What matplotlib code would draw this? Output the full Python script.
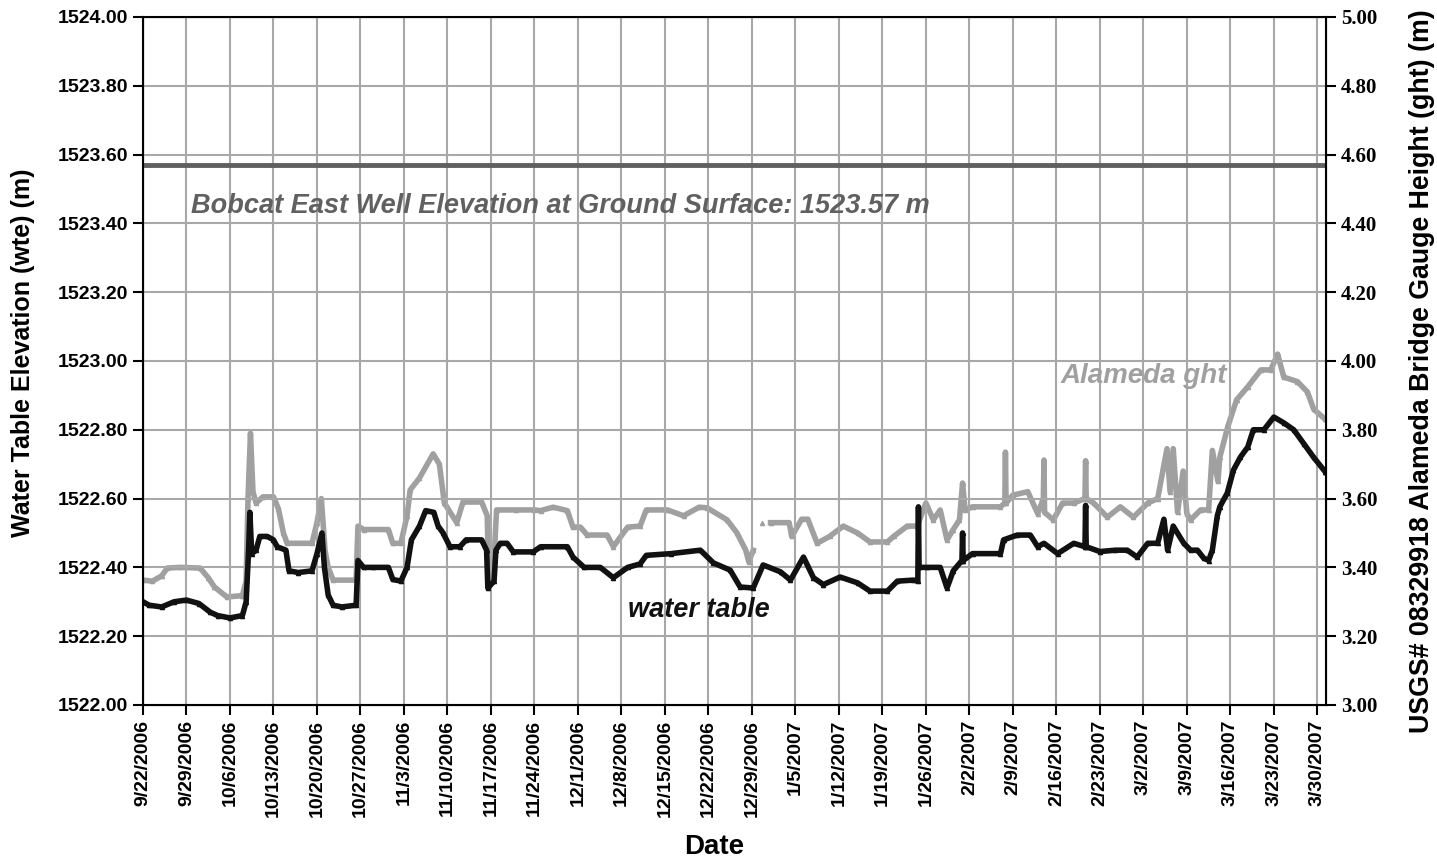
import numpy as np
import pandas as pd
import matplotlib
matplotlib.use('Agg')
import matplotlib.pyplot as plt

# days since 9/22/2006 and water table elevation (m)
wte_days = [0, 1, 3, 5, 7, 9, 10.8, 12, 14, 16, 16.6, 17.0, 17.2, 17.5, 18.2, 18.8, 20, 21,
            21.6, 23, 23.5, 25, 27.2, 28, 28.8, 29.2, 29.8, 30.6, 32, 34.3, 34.6, 35.5, 37,
            39.5, 40.2, 41.5, 42.5, 43.2, 44.5, 45.5, 46.8, 47.5, 48.3, 49.4, 51, 52, 54.5,
            55.3, 55.5, 56.5, 56.8, 57.5, 58.6, 59.6, 62.8, 64, 68.3, 69.2, 71, 73.6, 75.7,
            78, 80, 81, 85, 89.7, 91.8, 94.5, 96.1, 98.2, 99.8, 102.6, 104.2, 106.3, 107.9,
            109.5, 112.2, 115, 117, 119.8, 121.4, 124, 124.7, 124.8, 124.9, 126.2, 128.3,
            129.4, 130.4, 131.8, 131.9, 132, 133.5, 138, 138.5, 140.7, 142.8, 144, 145,
            147.2, 149.8, 151.6, 151.7, 151.8, 154, 156.5, 158.4, 160, 161.7, 163.3, 164.3,
            164.9, 165.8, 167.5, 168.6, 169.7, 170.7, 171.5, 172.1, 172.9, 173.3, 174.5,
            175.5, 176.6, 177.8, 178.7, 180.4, 182, 183.6, 185.2, 186.8, 188.4, 190.3]
wte_vals = [1522.30, 1522.29, 1522.285, 1522.30, 1522.305, 1522.295, 1522.27, 1522.26,
            1522.253, 1522.26, 1522.30, 1522.45, 1522.56, 1522.44, 1522.45, 1522.49, 1522.49,
            1522.48, 1522.46, 1522.45, 1522.39, 1522.385, 1522.39, 1522.44, 1522.50, 1522.40,
            1522.32, 1522.29, 1522.285, 1522.29, 1522.42, 1522.40, 1522.40, 1522.40, 1522.365,
            1522.36, 1522.40, 1522.48, 1522.52, 1522.565, 1522.56, 1522.52, 1522.50, 1522.46,
            1522.46, 1522.48, 1522.48, 1522.45, 1522.34, 1522.36, 1522.45, 1522.47, 1522.47,
            1522.445, 1522.445, 1522.46, 1522.46, 1522.43, 1522.40, 1522.40, 1522.37, 1522.40,
            1522.41, 1522.435, 1522.44, 1522.45, 1522.413, 1522.392, 1522.343, 1522.34,
            1522.407, 1522.387, 1522.363, 1522.43, 1522.37, 1522.35, 1522.372, 1522.355,
            1522.331, 1522.331, 1522.36, 1522.363, 1522.36, 1522.576, 1522.40, 1522.40,
            1522.40, 1522.34, 1522.39, 1522.42, 1522.50, 1522.42, 1522.44, 1522.44, 1522.48,
            1522.494, 1522.494, 1522.46, 1522.47, 1522.44, 1522.47, 1522.46, 1522.58, 1522.46,
            1522.446, 1522.45, 1522.45, 1522.43, 1522.47, 1522.47, 1522.54, 1522.45, 1522.52,
            1522.47, 1522.45, 1522.45, 1522.427, 1522.42, 1522.45, 1522.55, 1522.576,
            1522.616, 1522.683, 1522.72, 1522.75, 1522.80, 1522.80, 1522.837, 1522.82,
            1522.80, 1522.76, 1522.72, 1522.677]

# days since 9/22/2006 and Alameda gauge height (m), nan = gap in record
ght_days = [0, 1.5, 3, 3.9, 6, 9.2, 10.5, 11.5, 13.5, 16, 16.6, 16.9, 17.3, 17.7, 18.2, 19.3,
            21, 21.8, 22.6, 23.2, 27.2, 28, 28.7, 29.3, 29.8, 30.6, 34.3, 34.6, 35.5, 39.5,
            40.2, 41.5, 42.5, 43, 44.5, 46.7, 47.7, 48.5, 50.5, 51.5, 54.5, 55.4, 55.6, 56.5,
            56.9, 60, 63, 64, 66, 68.3, 69.2, 70.4, 71.5, 74.7, 75.7, 78, 80, 81, 84.4, 87,
            89.5, 90.8, 94, 95.6, 97, 97.5, 98.2, 98.6, 99.6, 100.3, 101, 104, 104.4, 106, 107,
            108.5, 110.5, 112.7, 115, 117, 119.8, 120.8, 123, 124.6, 126, 127.2, 128.3, 129.4,
            130.4, 131.4, 131.9, 132.3, 133.5, 138, 138.7, 138.8, 138.9, 140, 142.4, 144,
            144.9, 145, 145.1, 146.5, 148, 149.8, 151.6, 151.7, 151.8, 153, 155.2, 157.3,
            159.4, 161.7, 163.3, 164.8, 165.3, 165.8, 166.5, 167.4, 168, 168.6, 170.2, 171.5,
            172.1, 173, 173.3, 174.6, 176, 177.8, 179.9, 181.5, 182.6, 183.6, 185.8, 187.4,
            188.4, 190.3]
ght_vals = [3.363, 3.36, 3.375, 3.398, 3.40, 3.398, 3.37, 3.343, 3.314, 3.318, 3.36, 3.60,
            3.79, 3.62, 3.587, 3.605, 3.605, 3.57, 3.50, 3.47, 3.47, 3.53, 3.60, 3.45, 3.40,
            3.363, 3.363, 3.52, 3.51, 3.51, 3.47, 3.47, 3.55, 3.625, 3.66, 3.73, 3.70, 3.587,
            3.53, 3.59, 3.59, 3.55, 3.40, 3.42, 3.567, 3.567, 3.567, 3.565, 3.575, 3.565,
            3.517, 3.517, 3.494, 3.494, 3.46, 3.517, 3.52, 3.567, 3.567, 3.55, 3.575, 3.573,
            3.538, 3.50, 3.45, 3.416, 3.45, np.nan, 3.53, np.nan, 3.53, 3.53, 3.49, 3.54, 3.54,
            3.47, 3.49, 3.52, 3.50, 3.474, 3.474, 3.49, 3.52, 3.52, 3.587, 3.538, 3.567, 3.48,
            3.51, 3.538, 3.645, 3.567, 3.576, 3.576, 3.587, 3.735, 3.587, 3.61, 3.62, 3.556,
            3.60, 3.712, 3.56, 3.538, 3.587, 3.587, 3.60, 3.71, 3.60, 3.587, 3.546, 3.576,
            3.546, 3.587, 3.60, 3.745, 3.62, 3.745, 3.56, 3.68, 3.556, 3.538, 3.567, 3.567,
            3.74, 3.65, 3.72, 3.81, 3.887, 3.925, 3.974, 3.974, 4.02, 3.953, 3.94, 3.91, 3.86,
            3.83]

ground_elev = 1523.57
start = pd.Timestamp('2006-09-22')
wte_dates = start + pd.to_timedelta(wte_days, unit='D')
ght_dates = start + pd.to_timedelta(ght_days, unit='D')
tick_dates = pd.date_range('2006-09-22', '2007-03-30', freq='7D')
tick_labels = [f"{d.month}/{d.day}/{d.year}" for d in tick_dates]

fig = plt.figure(figsize=(14.37, 8.61), dpi=100)
ax = fig.add_axes([0.0995, 0.1812, 0.8233, 0.7991])
ax2 = ax.twinx()
ax.set_zorder(ax2.get_zorder() + 1)
ax.patch.set_visible(False)

grid_c = '#a8a8a8'
ax2.plot(ght_dates, ght_vals, color='#a0a0a0', lw=4, marker='^', ms=3)
ax.plot(wte_dates, wte_vals, color='#111111', lw=4, marker='^', ms=3)
ax.axhline(ground_elev, color='#606060', lw=3.5)

ax.set_xlim(start, start + pd.Timedelta(days=190.4))
ax.set_ylim(1522.0, 1524.0)
ax2.set_ylim(3.0, 5.0)
ax.set_yticks(np.arange(1522.0, 1524.01, 0.2))
ax2.set_yticks(np.arange(3.0, 5.01, 0.2))
ax.set_yticklabels([f"{v:.2f}" for v in np.arange(1522.0, 1524.01, 0.2)],
                   fontsize=14, fontweight='bold', family='Liberation Sans')
ax2.set_yticklabels([f"{v:.2f}" for v in np.arange(3.0, 5.01, 0.2)],
                    fontsize=15, fontweight='bold', family='Liberation Serif')
ax.set_xticks(tick_dates)
ax.set_xticklabels(tick_labels, rotation=90, fontsize=14, fontweight='bold',
                   family='Liberation Sans')
ax.grid(True, color=grid_c, lw=1.5)
ax.set_axisbelow(True)
ax.tick_params(length=7, width=1.5)
ax2.tick_params(length=7, width=1.5)
for sp in ax.spines.values():
    sp.set_linewidth(1.5)

ax.set_ylabel('Water Table Elevation (wte) (m)', fontsize=18, fontweight='bold',
              family='Liberation Sans')
ax.yaxis.set_label_coords(-0.0913, 0.512)
ax2.set_ylabel('USGS# 08329918 Alameda Bridge Gauge Height (ght) (m)', fontsize=19.3,
               fontweight='bold', family='Liberation Sans')
ax2.yaxis.set_label_coords(1.0702, 0.4855)
ax.set_xlabel('Date', fontsize=20, fontweight='bold', family='Liberation Sans')
ax.xaxis.set_label_coords(0.4827, -0.1875)

ax.text(start + pd.Timedelta(days=7.8), 1523.45,
        'Bobcat East Well Elevation at Ground Surface: 1523.57 m', fontsize=19.5,
        fontweight='bold', style='italic', color='#606060', family='Liberation Sans',
        va='center')
ax.text(start + pd.Timedelta(days=147.6), 1522.955, 'Alameda ght', fontsize=20,
        fontweight='bold', style='italic', color='#a0a0a0', family='Liberation Sans',
        va='center')
ax.text(start + pd.Timedelta(days=78), 1522.275, 'water table', fontsize=19.5,
        fontweight='bold', style='italic', color='#111111', family='Liberation Sans',
        va='center')

fig.savefig('out.png', dpi=100)
